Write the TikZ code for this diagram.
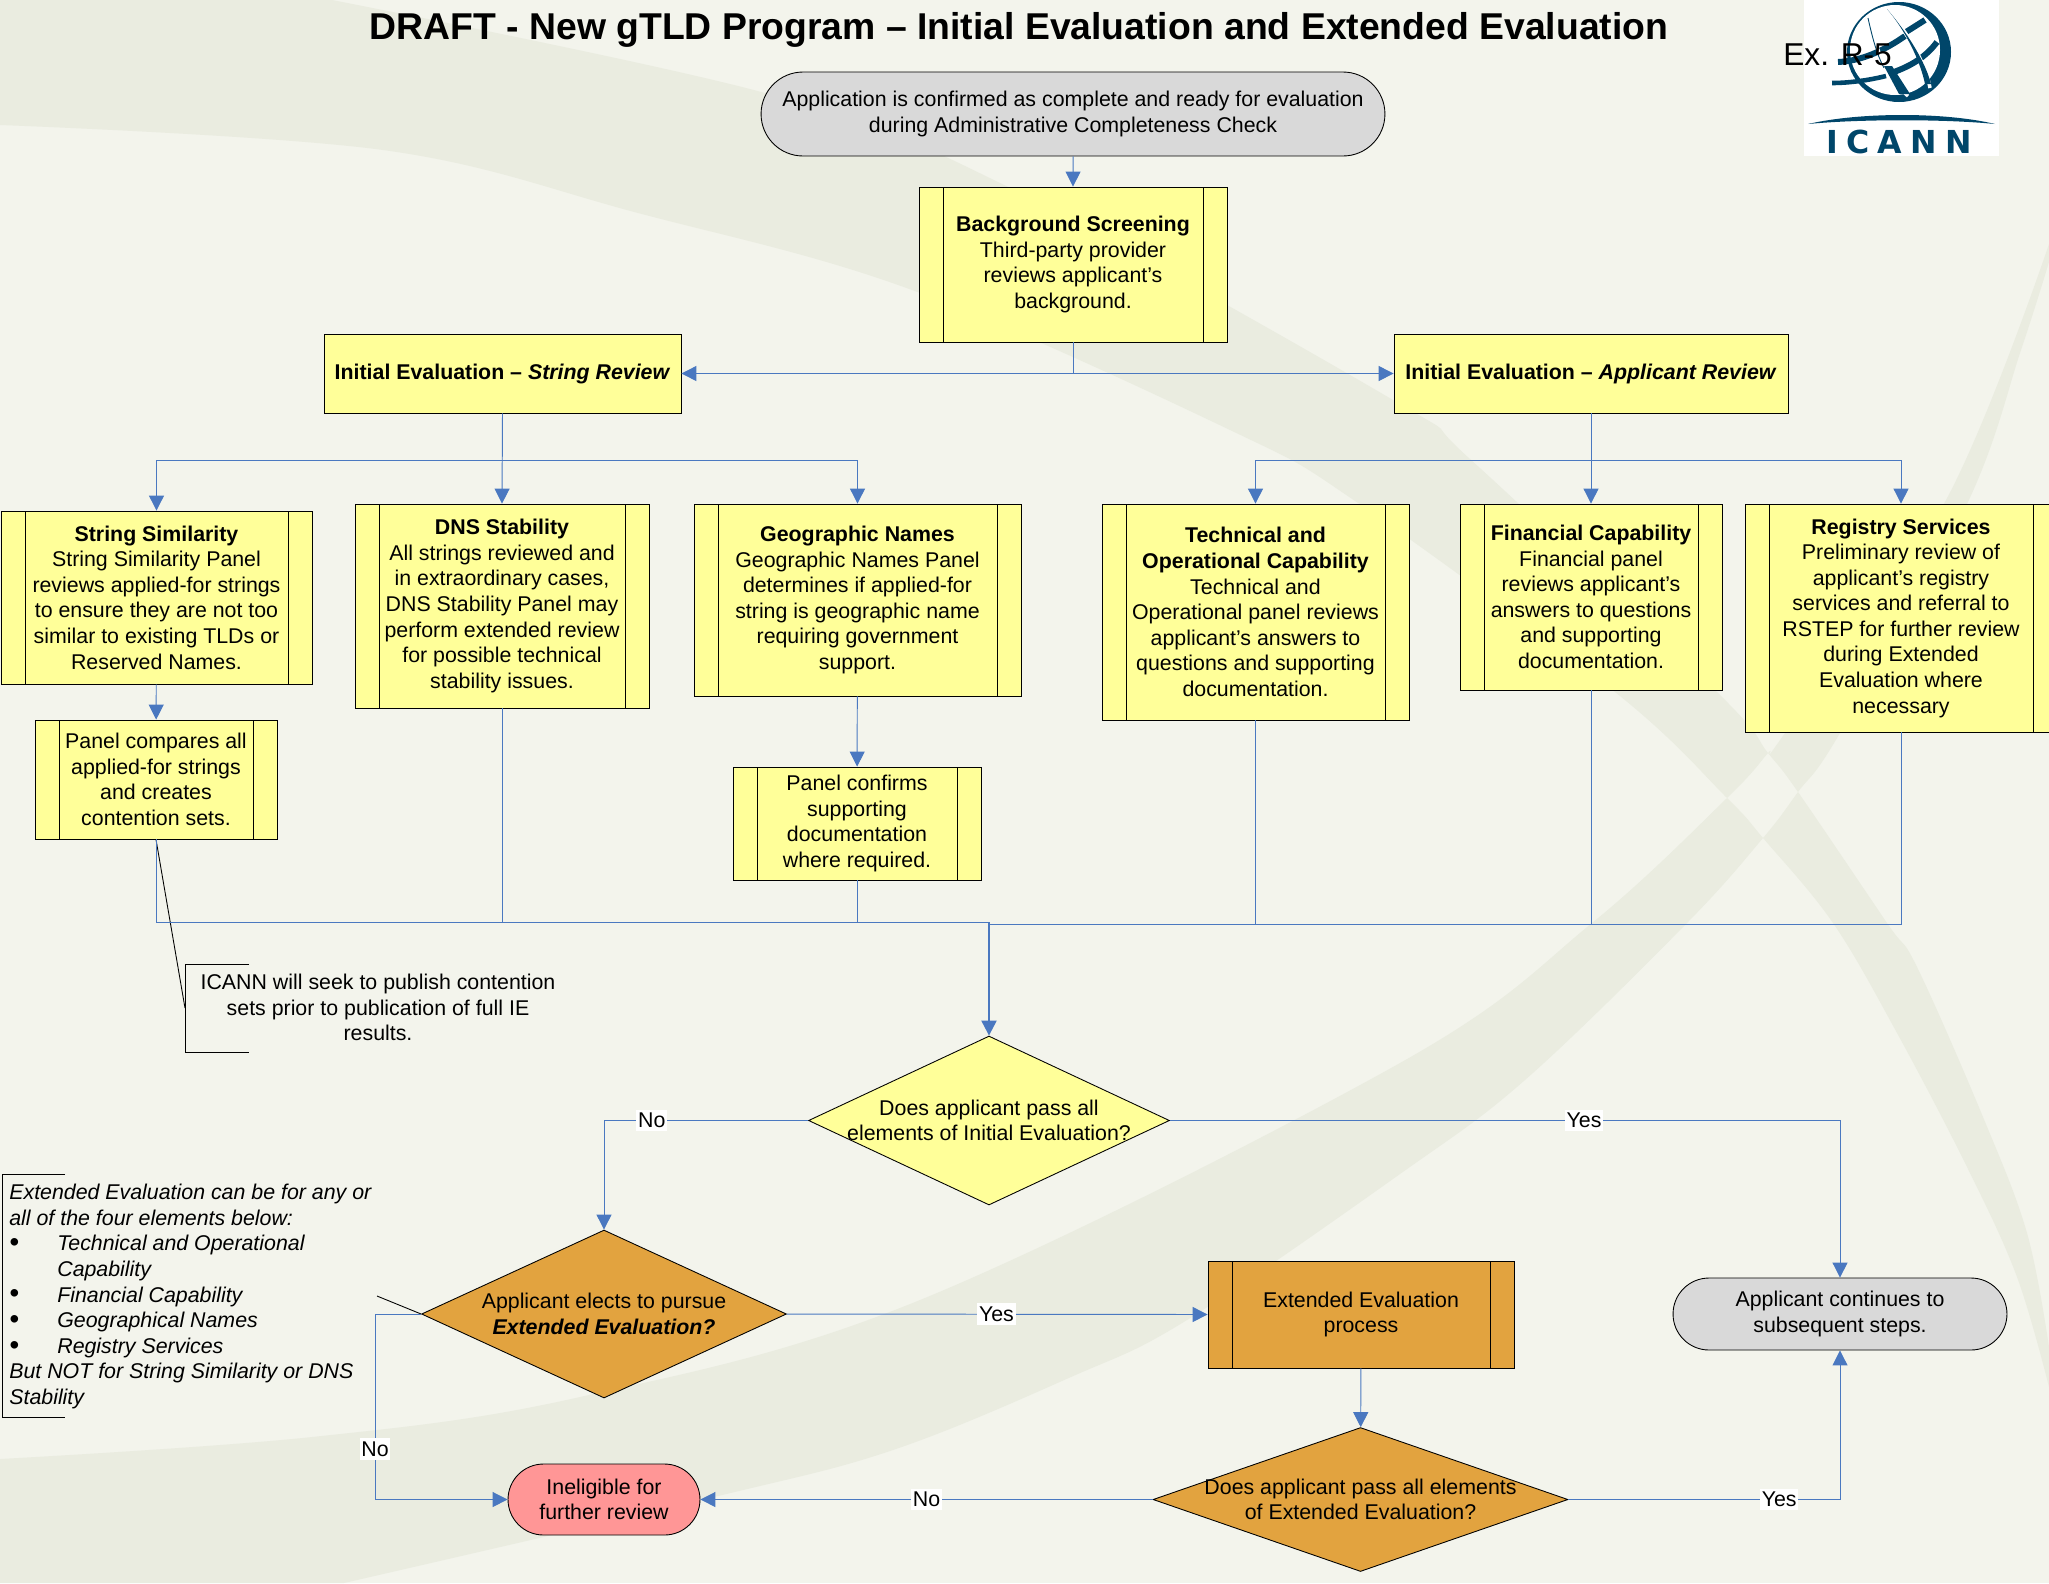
\documentclass[tikz,border=0pt]{standalone}
\usepackage{fontspec}
\setmainfont{Liberation Sans}
\newfontfamily\logofont[LetterSpace=26]{DejaVu Sans}
\usetikzlibrary{shapes.geometric,shapes.misc,arrows.meta}
\definecolor{pagebg}{HTML}{F3F4EC}
\definecolor{swoosh}{HTML}{EAECE0}
\definecolor{boxyellow}{HTML}{FFFF99}
\definecolor{boxorange}{HTML}{E2A33F}
\definecolor{boxgrey}{HTML}{D9D9D9}
\definecolor{boxpink}{HTML}{FF9696}
\definecolor{linkblue}{HTML}{4A78C0}
\definecolor{logoblue}{HTML}{00466A}
\newcommand{\bodyfont}{\fontsize{12.15}{14.55}\selectfont}
\newcommand{\notebullet}{\makebox[0.96cm][l]{\raisebox{-0.5pt}{\scalebox{1.3}{\textbullet}}}}
\begin{document}
\begin{tikzpicture}[x=0.02cm,y=-0.02cm,
    every node/.style={font=\bodyfont,align=center,inner sep=0pt},
    every label/.style={font=\bodyfont,align=center,inner sep=0pt},
    plain box/.style={rectangle,draw,line width=0.5pt,fill=boxyellow},
    bar box/.style={plain box,path picture={
        \draw ([xshift=0.48cm]path picture bounding box.north west) -- ([xshift=0.48cm]path picture bounding box.south west);
        \draw ([xshift=-0.48cm]path picture bounding box.north east) -- ([xshift=-0.48cm]path picture bounding box.south east);}},
    pill/.style={rounded rectangle,draw,line width=0.5pt,fill=boxgrey},
    decision/.style={diamond,draw,line width=0.5pt,fill=boxyellow},
    link/.style={draw=linkblue,line width=0.55pt,-{Triangle[length=0.3cm,width=0.3cm]}},
    bare link/.style={draw=linkblue,line width=0.55pt},
    edge lab/.style={fill=white,inner xsep=1pt,inner ysep=2pt}]
    \useasboundingbox (0,0) rectangle (2049,1583);
    \fill[pagebg] (0,0) rectangle (2049,1583);

    % background swooshes, where they cross the page shows through
    \fill[swoosh,even odd rule]
        (0,0) -- plot[smooth,tension=0.6] coordinates {(332,0) (765,93) (1000,183) (1393,400) (1470,459) (1717,692) (1768,753) (1798,792) (1887,923) (1917,967) (1983,1117) (2027,1233) (2049,1347)}
        -- plot[smooth,tension=0.6] coordinates {(2049,1387) (2017,1277) (1967,1167) (1897,1033) (1833,923) (1763,838) (1727,798) (1615,692) (1358,503) (1230,430) (912,290) (638,213) (383,150) (0,125)} -- cycle
        plot[smooth,tension=0.6] coordinates {(0,1459) (312,1437) (580,1397) (920,1300) (1400,1063) (1592,923) (1727,798) (1768,753) (1785,733) (1946,500) (2049,244)}
        -- plot[smooth,tension=0.6] coordinates {(2049,262) (2021,350) (1967,504) (1840,733) (1798,792) (1763,838) (1687,923) (1525,1080) (1400,1174) (1187,1320) (1071,1377) (893,1450) (714,1497) (344,1583)}
        -- (0,1583) -- cycle;

    % logo
    \fill[white] (1804,0) rectangle (1999,156);
    \fill[logoblue] (1899,52) circle [x radius=52,y radius=50];
    \fill[white] (1895,50) circle [radius=45];
    \draw[logoblue,line width=3.4pt] (1838,62) .. controls (1862,61) and (1885,50) .. (1905,36);
    \draw[logoblue,line width=3.4pt] (1906,32) -- (1925,20);
    \draw[logoblue,line width=2.6pt] (1832,83) .. controls (1850,83) and (1870,80) .. (1886,76);
    \draw[logoblue,line width=3.4pt] (1894,72) .. controls (1910,66) and (1925,58) .. (1937,42);
    \draw[white,line width=2pt] (1887,9) .. controls (1905,30) and (1925,60) .. (1930,88);
    \draw[white,line width=2pt] (1868,18) .. controls (1875,50) and (1890,80) .. (1908,96);
    \draw[logoblue,line width=0.5pt] (1868,18) .. controls (1875,50) and (1880,60) .. (1884,68);
    \fill[logoblue] (1884,66) -- (1892,66) -- (1910,94) -- (1899,94) -- cycle;
    \fill[logoblue] (1887,9) .. controls (1905,30) and (1925,60) .. (1931,84) -- (1925,84) .. controls (1920,60) and (1905,30) .. (1887,9) -- cycle;
    \fill[logoblue] (1808,124) .. controls (1860,112) and (1945,112) .. (1995,124) .. controls (1945,119) and (1860,119) .. (1808,124) -- cycle;
    \node[text=logoblue,font={\fontsize{18}{20}\logofont\bfseries}] at (1899,142) (logotext) {ICANN};
    \node[font=\fontsize{18}{20}\selectfont,anchor=west] at (1783,55) (exhibit) {Ex. R-5};

    % title
    \node[font=\fontsize{21.25}{25}\selectfont\bfseries] at (1019,30) (title) {DRAFT - New gTLD Program – Initial Evaluation and Extended Evaluation};

    % boxes
    \node[pill,minimum width=12.48cm,minimum height=1.68cm] at (1073,114) (start) {Application is confirmed as complete and ready for evaluation\\during Administrative Completeness Check};
    \node[bar box,minimum width=6.16cm,minimum height=3.1cm] at (1073,264.5) (bgscreen) {\textbf{Background Screening}\\Third-party provider\\reviews applicant’s\\background.};
    \node[plain box,minimum width=7.14cm,minimum height=1.58cm] at (502.5,373.5) (iestring) {\textbf{Initial Evaluation – \textit{String Review}}};
    \node[plain box,minimum width=7.88cm,minimum height=1.58cm] at (1591,373.5) (ieapplicant) {\textbf{Initial Evaluation – \textit{Applicant Review}}};

    \node[bar box,minimum width=6.22cm,minimum height=3.46cm] at (156.5,597.5) (strsim) {\textbf{String Similarity}\\String Similarity Panel\\reviews applied-for strings\\to ensure they are not too\\similar to existing TLDs or\\Reserved Names.};
    \node[bar box,minimum width=4.84cm,minimum height=2.38cm] at (156,779.5) (compare) {Panel compares all\\applied-for strings\\and creates\\contention sets.};
    \node[bar box,minimum width=5.88cm,minimum height=4.08cm] at (502,606) (dns) {\textbf{DNS Stability}\\All strings reviewed and\\in extraordinary cases,\\DNS Stability Panel may\\perform extended review\\for possible technical\\stability issues.};
    \node[bar box,minimum width=6.54cm,minimum height=3.84cm] at (857.5,600) (geo) {\textbf{Geographic Names}\\Geographic Names Panel\\determines if applied-for\\string is geographic name\\requiring government\\support.};
    \node[bar box,minimum width=4.96cm,minimum height=2.26cm] at (857,823.5) (confirm) {Panel confirms\\supporting\\documentation\\where required.};
    \node[bar box,minimum width=6.14cm,minimum height=4.32cm] at (1255.5,612) (tech) {\textbf{Technical and}\\\textbf{Operational Capability}\\Technical and\\Operational panel reviews\\applicant’s answers to\\questions and supporting\\documentation.};
    \node[bar box,minimum width=5.24cm,minimum height=3.72cm] at (1591,597) (fin) {\textbf{Financial Capability}\\Financial panel\\reviews applicant’s\\answers to questions\\and supporting\\documentation.};
    \node[bar box,minimum width=6.24cm,minimum height=4.56cm] at (1901,618) (reg) {\textbf{Registry Services}\\Preliminary review of\\applicant’s registry\\services and referral to\\RSTEP for further review\\during Extended\\Evaluation where\\necessary};

    % decisions
    \node[decision,minimum width=7.22cm,minimum height=3.38cm,label={[name=passietext]center:{Does applicant pass all\\elements of Initial Evaluation?}}] at (989,1120.5) (passie) {};
    \node[decision,fill=boxorange,minimum width=7.3cm,minimum height=3.36cm,label={[name=electtext]center:{Applicant elects to pursue\\\textbf{\textit{Extended Evaluation?}}}}] at (604,1314) (elect) {};
    \node[bar box,fill=boxorange,minimum width=6.12cm,minimum height=2.14cm] at (1361,1314.5) (extended) {Extended Evaluation\\process};
    \node[decision,fill=boxorange,minimum width=8.3cm,minimum height=2.88cm,label={[name=passeetext]center:{Does applicant pass all elements\\of Extended Evaluation?}}] at (1360.5,1499.5) (passee) {};
    \node[pill,fill=boxpink,minimum width=3.84cm,minimum height=1.42cm] at (604,1499.5) (ineligible) {Ineligible for\\further review};
    \node[pill,minimum width=6.68cm,minimum height=1.44cm] at (1840,1314) (continue) {Applicant continues to\\subsequent steps.};

    % notes
    \node at (378,1007.5) (pubnote) {ICANN will seek to publish contention\\sets prior to publication of full IE\\results.};
    \coordinate (pubmid) at (185,1008);
    \draw[line width=0.5pt] (249,964) -- (185,964) -- (185,1052) -- (249,1052);
    \draw[line width=0.5pt] (compare.south) -- (pubmid);
    \node[anchor=west,align=left,font=\bodyfont\itshape] at (9,1296.5) (extnote) {Extended Evaluation can be for any or\\all of the four elements below:\\\notebullet Technical and Operational\\\hspace*{0.96cm}Capability\\\notebullet Financial Capability\\\notebullet Geographical Names\\\notebullet Registry Services\\But NOT for String Similarity or DNS\\Stability};
    \draw[line width=0.5pt] (65,1174) -- (2.5,1174) -- (2.5,1417) -- (65,1417);
    \coordinate (extmid) at (377,1296);
    \draw[line width=0.5pt] (elect.west) -- (extmid);

    % connectors
    \draw[link] (start) -- (bgscreen);
    \draw[link] (bgscreen.south) |- (iestring.east);
    \draw[link] (bgscreen.south) |- (ieapplicant.west);
    \coordinate (strbus) at (502.5,460);
    \coordinate (appbus) at (1591,460);
    \draw[link] (iestring.south) -- (dns.north);
    \draw[link] (strbus) -| (strsim.north);
    \draw[link] (strbus) -| (geo.north);
    \draw[link] (ieapplicant.south) -- (fin.north);
    \draw[link] (appbus) -| (tech.north);
    \draw[link] (appbus) -| (reg.north);
    \draw[link] (strsim) -- (compare);
    \draw[link] (geo) -- (confirm);
    \coordinate (mergeleft) at (989,922);
    \coordinate (mergeright) at (989,924);
    \draw[bare link] (compare.south) |- (mergeleft);
    \draw[bare link] (dns.south) |- (mergeleft);
    \draw[bare link] (confirm.south) |- (mergeleft);
    \draw[bare link] (tech.south) |- (mergeright);
    \draw[bare link] (fin.south) |- (mergeright);
    \draw[bare link] (reg.south) |- (mergeright);
    \draw[link,line width=1.2pt] (mergeleft) -- (passie.north);

    \draw[link] (passie.west) -| node[edge lab,pos=0.383] {No} (elect.north);
    \draw[link] (passie.east) -| node[edge lab,pos=0.309] {Yes} (continue.north);
    \draw[link] (elect.east) -- node[edge lab,pos=0.498] {Yes} (extended.west);
    \coordinate (electturn) at (375,1314);
    \draw[link] (elect.west) -- (electturn) |- node[edge lab,pos=0.365] {No} (ineligible.west);
    \draw[link] (extended) -- (passee);
    \draw[link] (passee.west) -- node[edge lab,pos=0.5] {No} (ineligible.east);
    \draw[link] (passee.east) -| node[edge lab,pos=0.388] {Yes} (continue.south);
\end{tikzpicture}
\end{document}
